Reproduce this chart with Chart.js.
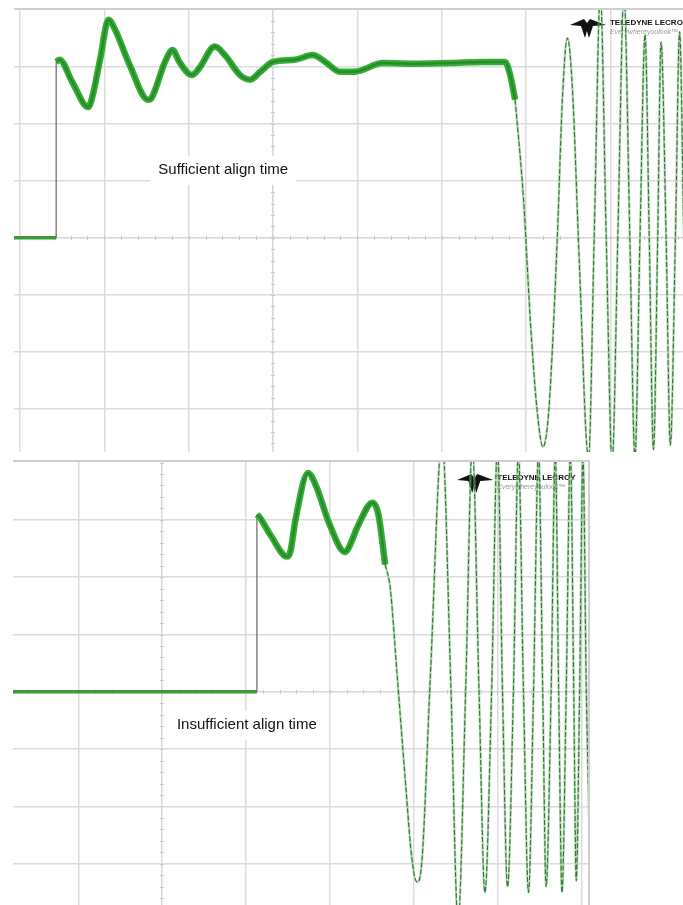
<!DOCTYPE html>
<html><head><meta charset="utf-8">
<script src="https://cdn.jsdelivr.net/npm/chart.js@4.4.0/dist/chart.umd.min.js"></script>
<style>
html,body{margin:0;padding:0;background:#fff;width:683px;height:905px;overflow:hidden;font-family:"Liberation Sans",Arial,sans-serif;}
.panel{position:absolute;background:#fff;}
#p1{left:14px;top:10px;width:669px;height:442px;}
#p2{left:13px;top:462px;width:575px;height:443px;}
.edge{position:absolute;background:#cfcfcf;}
</style></head><body>
<div class="edge" style="left:14px;top:8px;width:669px;height:2px;"></div>
<div class="edge" style="left:13px;top:460px;width:576px;height:2px;"></div>
<div class="edge" style="left:588px;top:460px;width:2px;height:445px;"></div>
<div class="panel" id="p1"><canvas id="c1" width="669" height="442"></canvas></div>
<div class="panel" id="p2"><canvas id="c2" width="575" height="443"></canvas></div>
<script>
// ===== Data (x = horizontal divisions, y = vertical divisions) =====
// Top: sufficient align time
const topXRange = [-3.07, 4.86];
const topYRange = [-3.75, 3.99];
const topXGrid = [-3, -2, -1, 0, 1, 2, 3, 4];
const topYGrid = [-3, -2, -1, 0, 1, 2, 3];
const topBaseT = [-3.10, -2.57];
const topBaseV = [0, 0];
const topSettleT = [-2.57, -2.53, -2.38, -2.19, -2.15, -2.05, -1.95, -1.87, -1.70, -1.48, -1.44, -1.28, -1.19, -1.11, -0.96, -0.87, -0.69, -0.57, -0.39, -0.27, -0.15, 0, 0.26, 0.47, 0.62, 0.79, 0.97, 1.30, 1.71, 2.10, 2.49, 2.75, 2.81, 2.87];
const topSettleV = [3.08, 3.12, 2.73, 2.29, 2.42, 3.12, 3.82, 3.64, 3.03, 2.42, 2.45, 3.08, 3.29, 3.08, 2.85, 2.98, 3.35, 3.20, 2.85, 2.77, 2.91, 3.08, 3.12, 3.20, 3.08, 2.91, 2.91, 3.06, 3.05, 3.06, 3.08, 3.08, 2.86, 2.42];
const topOscT = [2.87, 2.97, 3.05, 3.13, 3.20, 3.27, 3.37, 3.43, 3.49, 3.55, 3.63, 3.74, 3.81, 3.88, 3.95, 4.02, 4.09, 4.16, 4.23, 4.29, 4.35, 4.41, 4.46, 4.51, 4.56, 4.60, 4.66, 4.71, 4.77, 4.82, 4.87, 4.92];
const topOscV = [2.42, 0.67, -1.44, -3.01, -3.66, -3.01, 0.0, 2.42, 3.50, 2.59, -0.39, -3.85, 0.2, 4.26, 0.0, -3.92, 0.2, 4.26, 0.0, -3.85, 0.0, 3.56, 0.0, -3.71, 0.0, 3.43, 0.0, -3.63, 0.0, 3.61, 0.0, -3.19];
const topLabel = {text: 'Sufficient align time', x: -0.59, y: 1.19};
const topLogo = {x: 3.52, y: 3.85};

// Bottom: insufficient align time
const botXRange = [-1.78, 5.08];
const botYRange = [-3.72, 4.01];
const botXGrid = [-1, 0, 1, 2, 3, 4, 5];
const botYGrid = [-3, -2, -1, 0, 1, 2, 3];
const botBaseT = [-1.80, 1.13];
const botBaseV = [0, 0];
const botSettleT = [1.13, 1.16, 1.29, 1.49, 1.53, 1.59, 1.74, 1.83, 2.00, 2.18, 2.22, 2.34, 2.51, 2.58, 2.66];
const botSettleV = [3.09, 3.05, 2.74, 2.36, 2.45, 3.00, 3.82, 3.61, 2.91, 2.44, 2.50, 2.91, 3.30, 3.09, 2.22];
const botOscT = [2.66, 2.72, 2.80, 2.90, 2.98, 3.04, 3.10, 3.20, 3.34, 3.44, 3.53, 3.62, 3.70, 3.78, 3.85, 3.93, 4.00, 4.06, 4.12, 4.19, 4.25, 4.31, 4.37, 4.43, 4.49, 4.54, 4.58, 4.64, 4.69, 4.73, 4.77, 4.82, 4.87, 4.91, 4.94, 4.98, 5.02, 5.06, 5.11];
const botOscV = [2.22, 1.82, 0.35, -1.54, -2.93, -3.32, -2.93, 0.30, 4.40, 0.30, -4.0, 0.0, 4.3, 0.0, -3.5, 0.0, 4.3, 0.0, -3.4, 0.0, 4.2, 0.0, -3.5, 0.0, 4.2, 0.0, -3.4, 0.0, 4.2, 0.0, -3.5, 0.0, 4.2, 0.0, -3.3, 0.0, 4.1, 0.0, -3.2];
const botLabel = {text: 'Insufficient align time', x: 1.01, y: -0.58};
const botLogo = {x: 3.52, y: 3.82};

const minorStep = 0.2;

// ===== Helpers =====
const pts = (T, V) => T.map((t, i) => ({x: t, y: V[i]}));

const scopePlugin = {
  id: 'scope',
  beforeDatasetsDraw(chart, args, o) {
    const ctx = chart.ctx, xs = chart.scales.x, ys = chart.scales.y;
    const x0 = xs.getPixelForValue(0), y0 = ys.getPixelForValue(0);
    ctx.save();
    ctx.strokeStyle = '#c9c9c9';
    ctx.lineWidth = 1;
    ctx.beginPath();
    for (let v = Math.ceil(xs.min / minorStep) * minorStep; v <= xs.max; v += minorStep) {
      const px = Math.round(xs.getPixelForValue(v)) + 0.5;
      ctx.moveTo(px, y0 - 2); ctx.lineTo(px, y0 + 2);
    }
    for (let v = Math.ceil(ys.min / minorStep) * minorStep; v <= ys.max; v += minorStep) {
      const py = Math.round(ys.getPixelForValue(v)) + 0.5;
      ctx.moveTo(x0 - 2, py); ctx.lineTo(x0 + 2, py);
    }
    ctx.stroke();
    // logo
    const lx = xs.getPixelForValue(o.logo.x), ly = ys.getPixelForValue(o.logo.y);
    ctx.fillStyle = '#111';
    ctx.beginPath();
    ctx.moveTo(lx, ly + 7);
    ctx.lineTo(lx + 14, ly + 1);
    ctx.lineTo(lx + 17, ly + 5);
    ctx.lineTo(lx + 20, ly + 1);
    ctx.lineTo(lx + 36, ly + 7);
    ctx.lineTo(lx + 23, ly + 8);
    ctx.lineTo(lx + 19, ly + 20);
    ctx.lineTo(lx + 17, ly + 13);
    ctx.lineTo(lx + 15, ly + 20);
    ctx.lineTo(lx + 11, ly + 8);
    ctx.closePath();
    ctx.fill();
    ctx.font = 'bold 8px "Liberation Sans Narrow","Liberation Sans",Arial';
    ctx.textBaseline = 'top';
    ctx.fillText('TELEDYNE LECROY', lx + 40, ly + 1);
    ctx.fillStyle = '#999';
    ctx.font = 'italic 7px "Liberation Sans",Arial';
    ctx.fillText('Everywhereyoulook\u2122', lx + 40, ly + 11);
    ctx.restore();
  },
  afterDatasetsDraw(chart, args, o) {
    const ctx = chart.ctx, xs = chart.scales.x, ys = chart.scales.y;
    const cx = xs.getPixelForValue(o.label.x), cy = ys.getPixelForValue(o.label.y);
    ctx.save();
    ctx.font = '15px "Liberation Sans",Arial';
    const w = ctx.measureText(o.label.text).width;
    ctx.fillStyle = '#fff';
    ctx.fillRect(cx - w / 2 - 8, cy - 14, w + 16, 29);
    ctx.fillStyle = '#111';
    ctx.textAlign = 'center';
    ctx.textBaseline = 'middle';
    ctx.fillText(o.label.text, cx, cy);
    ctx.restore();
  }
};

function makeScope(id, xr, yr, xg, yg, baseT, baseV, setT, setV, oscT, oscV, label, logo) {
  const stepPts = [{x: baseT[baseT.length - 1], y: baseV[baseV.length - 1]}, {x: setT[0], y: setV[0]}];
  const common = {pointRadius: 0, fill: false, clip: 0};
  // Chart.js paints dataset 0 last (on top), so top-most layers come first.
  new Chart(document.getElementById(id), {
    type: 'line',
    data: {
      datasets: [
        Object.assign({data: pts(setT, setV), borderColor: '#248f26', borderWidth: 2.5, cubicInterpolationMode: 'monotone', borderJoinStyle: 'round'}, common),
        Object.assign({data: pts(setT, setV), borderColor: '#38ac38', borderWidth: 6.5, cubicInterpolationMode: 'monotone', borderJoinStyle: 'round'}, common),
        Object.assign({data: pts(oscT, oscV), borderColor: '#3f6b3f', borderWidth: 1.1, borderDash: [5, 2], cubicInterpolationMode: 'monotone'}, common),
        Object.assign({data: pts(oscT, oscV), borderColor: 'rgba(120,200,120,0.6)', borderWidth: 2.4, cubicInterpolationMode: 'monotone'}, common),
        Object.assign({data: stepPts, borderColor: '#5c6e5c', borderWidth: 1.2, tension: 0}, common),
        Object.assign({data: pts(baseT, baseV), borderColor: '#3a9a3a', borderWidth: 3.5, tension: 0}, common)
      ]
    },
    options: {
      responsive: false, animation: false, maintainAspectRatio: false,
      layout: {padding: 0},
      events: [],
      plugins: {legend: {display: false}, tooltip: {enabled: false}, scope: {label: label, logo: logo}},
      scales: {
        x: {type: 'linear', min: xr[0], max: xr[1],
            afterBuildTicks: s => { s.ticks = xg.map(v => ({value: v})); },
            ticks: {display: false}, grid: {color: c => c.tick && c.tick.value === 0 ? '#d6d6d6' : '#dcdcdc', lineWidth: 1.5, drawTicks: false}, border: {display: false}},
        y: {type: 'linear', min: yr[0], max: yr[1],
            afterBuildTicks: s => { s.ticks = yg.map(v => ({value: v})); },
            ticks: {display: false}, grid: {color: c => c.tick && c.tick.value === 0 ? '#d6d6d6' : '#dcdcdc', lineWidth: 1.5, drawTicks: false}, border: {display: false}}
      }
    },
    plugins: [scopePlugin]
  });
}

makeScope('c1', topXRange, topYRange, topXGrid, topYGrid, topBaseT, topBaseV, topSettleT, topSettleV, topOscT, topOscV, topLabel, topLogo);
makeScope('c2', botXRange, botYRange, botXGrid, botYGrid, botBaseT, botBaseV, botSettleT, botSettleV, botOscT, botOscV, botLabel, botLogo);
</script>
</body></html>
